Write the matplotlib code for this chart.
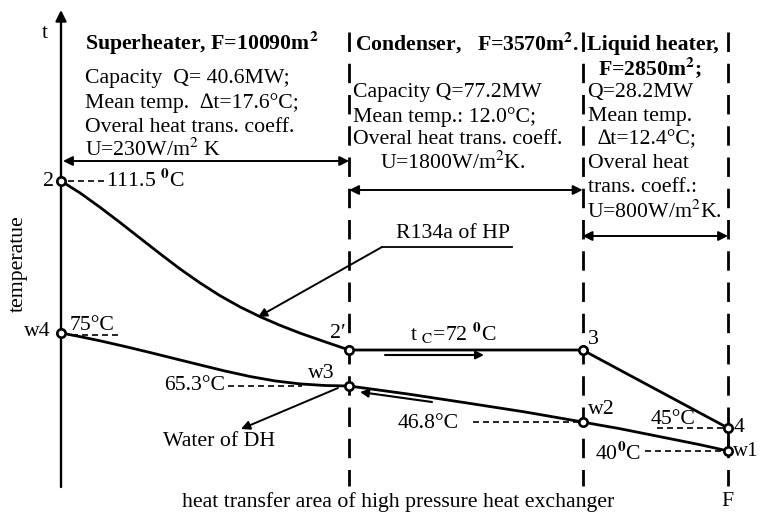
import matplotlib
matplotlib.use("Agg")
import matplotlib.pyplot as plt

plt.rcParams['font.family'] = ['Liberation Serif', 'DejaVu Serif']
plt.rcParams['mathtext.fontset'] = 'stix'
plt.rcParams['lines.scale_dashes'] = False

# ---------------- data (schematic) ----------------
# exchanger sections
sections = ['Superheater', 'Condenser', 'Liquid heater']
area_m2 = [10090, 3570, 2850]
capacity_MW = [40.6, 77.2, 28.2]
mean_dt = [17.6, 12.0, 12.4]
U_coeff = [230, 1800, 800]

# section boundaries (schematic fraction of total area F)
bound_x = [0.0, 0.432, 0.782, 1.0]

# state points: schematic position / diagram level / temperature
state_names = ['2', "2\u2032", '3', '4', 'w4', 'w3', 'w2', 'w1']
state_x = [0.0, 0.432, 0.782, 1.0, 0.0, 0.432, 0.782, 1.0]
state_level = [305, 136, 136, 58, 153, 100, 64, 35]
state_temp = [111.5, 72, 72, 45, 75, 65.3, 46.8, 40]

# R134a (HP) cooling curve in superheater
r134_x = [0.0, 0.0285, 0.0585, 0.0885, 0.1184, 0.1484, 0.1784, 0.2084,
          0.2384, 0.2684, 0.2984, 0.3283, 0.3583, 0.3958, 0.432]
r134_lv = [305, 293.1, 278.7, 263.5, 247.9, 232.3, 217.1, 203.1,
           190.3, 179.1, 169.3, 160.7, 152.9, 144.2, 136]
# condenser + liquid heater of R134a
r134b_x = [0.432, 0.782, 1.0]
r134b_lv = [136, 136, 58]

# district heating water curve (w4 -> w3 -> w2 -> w1)
w_x = [0.0, 0.0285, 0.0585, 0.096, 0.1334, 0.1709, 0.2084, 0.2459, 0.2834,
       0.3208, 0.3583, 0.3958, 0.432,
       0.520, 0.609, 0.696, 0.782,
       0.8066, 0.8366, 0.8666, 0.8966, 0.9265, 0.9565, 0.979, 1.0]
w_lv = [153, 149.4, 145.2, 139.5, 133.5, 127.3, 121.1, 115.0, 109.5,
        105.1, 102.1, 100.5, 100,
        92, 83, 74, 64,
        61, 57.5, 53.5, 49.5, 45.5, 41.5, 38.2, 35]

# ---------------- figure ----------------
fig = plt.figure(figsize=(7.6, 5.16), dpi=100)
ax = fig.add_axes([0, 0, 1, 1])
X0, XS, Y0 = 61, 667, 486
ax.set_xlim(-X0 / XS, (760 - X0) / XS)
ax.set_ylim(-30, Y0)
ax.axis('off')


def P(xp, yp):
    return ((xp - X0) / XS, Y0 - yp)


FS = 15.7
K = 'black'

# axes arrows
ax.annotate('', xy=P(61, 10), xytext=P(61, 487),
            arrowprops=dict(arrowstyle='-|>', lw=1.7, color=K, mutation_scale=16,
                            shrinkA=0, shrinkB=0))
ax.annotate('', xy=P(762, 486), xytext=P(60, 486),
            arrowprops=dict(arrowstyle='-|>', lw=1.7, color=K, mutation_scale=16,
                            shrinkA=0, shrinkB=0))

# section boundaries (dashed)
for bx in bound_x[1:]:
    ax.plot([bx, bx], [P(0, 32)[1], 0], color=K, lw=2.0, dashes=(14, 8.5),
            solid_capstyle='butt', dash_capstyle='butt')

# curves
ax.plot(r134_x, r134_lv, color=K, lw=2.0, solid_capstyle='round', solid_joinstyle='round')
ax.plot(r134b_x, r134b_lv, color=K, lw=2.0)
ax.plot(w_x, w_lv, color=K, lw=2.0, solid_joinstyle='round')
ax.plot([state_x[3], state_x[7]], [state_level[3], state_level[7]], color=K, lw=2.0)

# state points
ax.plot(state_x, state_level, 'o', ms=6, mfc='white', mec=K, mew=1.9, zorder=5)

# span arrows
span_y = [161, 190, 236]
for i in range(3):
    x_a = bound_x[i] + (0.003 if i == 0 else 0)
    ax.annotate('', xy=(x_a, P(0, span_y[i])[1]), xytext=(bound_x[i + 1], P(0, span_y[i])[1]),
                arrowprops=dict(arrowstyle='<|-|>', lw=1.4, color=K, mutation_scale=14,
                                shrinkA=0, shrinkB=0))

# flow arrows
ax.annotate('', xy=P(484, 355), xytext=P(385, 355),
            arrowprops=dict(arrowstyle='-|>', lw=1.5, color=K, mutation_scale=12,
                            shrinkA=0, shrinkB=0))
ax.annotate('', xy=P(360, 392), xytext=P(432, 402),
            arrowprops=dict(arrowstyle='-|>', lw=1.5, color=K, mutation_scale=12,
                            shrinkA=0, shrinkB=0))

# leaders
ax.plot(*zip(P(382, 247), P(512, 247)), color=K, lw=1.3)
ax.annotate('', xy=P(258, 317), xytext=P(382, 247),
            arrowprops=dict(arrowstyle='-|>', lw=1.4, color=K, mutation_scale=13,
                            shrinkA=0, shrinkB=0))
ax.annotate('', xy=P(241, 429), xytext=P(338, 388),
            arrowprops=dict(arrowstyle='-|>', lw=1.4, color=K, mutation_scale=13,
                            shrinkA=0, shrinkB=0))

# dashed temperature leaders
for (xa, xb, yy) in [(68, 104, 181), (72, 122, 335), (228, 302, 386),
                     (473, 580, 422), (657, 724, 428), (645, 724, 451)]:
    ax.plot(*zip(P(xa, yy), P(xb, yy)), color=K, lw=1.2, dashes=(4.3, 2.9))


def T(s, xp, yp, ha='left', va='center', **kw):
    ax.text(*P(xp, yp), s, ha=ha, va=va, fontsize=kw.pop('fs', FS), color=K, **kw)


# section texts
T(f'{sections[0]}, F={area_m2[0]}m$^\\mathbf{{2}}$', 85, 43, weight='bold')
T(f'Capacity  Q= {capacity_MW[0]}MW;', 85, 78)
T(f'Mean temp.  \u2206t={mean_dt[0]}\u00b0C;', 85, 103)
T('Overal heat trans. coeff.', 85, 127)
T(f'U={U_coeff[0]}W/m$^2$ K', 85, 150)

T(f'{sections[1]},   F={area_m2[1]}m$^\\mathbf{{2}}$.', 355, 43, weight='bold')
T(f'Capacity Q={capacity_MW[1]}MW', 353, 93)
T(f'Mean temp.: {mean_dt[1]:.1f}\u00b0C;', 353, 117)
T('Overal heat trans. coeff.', 353, 140)
T(f'U={U_coeff[1]}W/m$^2$K.', 380, 163)

T(f'{sections[2]},', 587, 45, weight='bold')
T(f'F={area_m2[2]}m$^\\mathbf{{2}}$;', 598, 68, weight='bold')
T(f'Q={capacity_MW[2]}MW', 587, 93)
T('Mean temp.', 588, 117)
T(f'\u2206t={mean_dt[2]}\u00b0C;', 598, 140)
T('Overal heat', 588, 163)
T('trans. coeff.:', 588, 187)
T(f'U={U_coeff[2]}W/m$^2$K.', 587, 212)

# state labels
T(state_names[0], 54, 182, ha='right')
T(state_names[4], 51, 332, ha='right')
T(state_names[1], 330, 333)
T(state_names[5], 308, 374)
T(state_names[2], 588, 340)
T(state_names[6], 588, 409)
T(state_names[3], 734, 428)
T(state_names[7], 733, 452, fs=15)

# temperature labels
T(f'{state_temp[0]} $^\\mathbf{{0}}$C', 106, 180)
T(f'{state_temp[4]}\u00b0C', 70, 325)
T(f'{state_temp[5]}\u00b0C', 225, 386, ha='right')
T(f'{state_temp[6]}\u00b0C', 398, 424)
T(f'{state_temp[3]}\u00b0C', 651, 420)
T(f'{state_temp[7]}$^\\mathbf{{0}}$C', 595, 453)
T(f't $_\\mathrm{{C}}$={state_temp[1]} $^\\mathbf{{0}}$C', 410, 333)
T('R134a of HP', 396, 233)
T('Water of DH', 163, 442)

# axis labels
T('t', 45, 33, ha='center')
T('temperatue', 18, 264, ha='center', rotation=90)
T('heat transfer area of high pressure heat exchanger', 398, 502, ha='center')
T('F', 727, 502, ha='center')

fig.savefig('out.png', dpi=100)
